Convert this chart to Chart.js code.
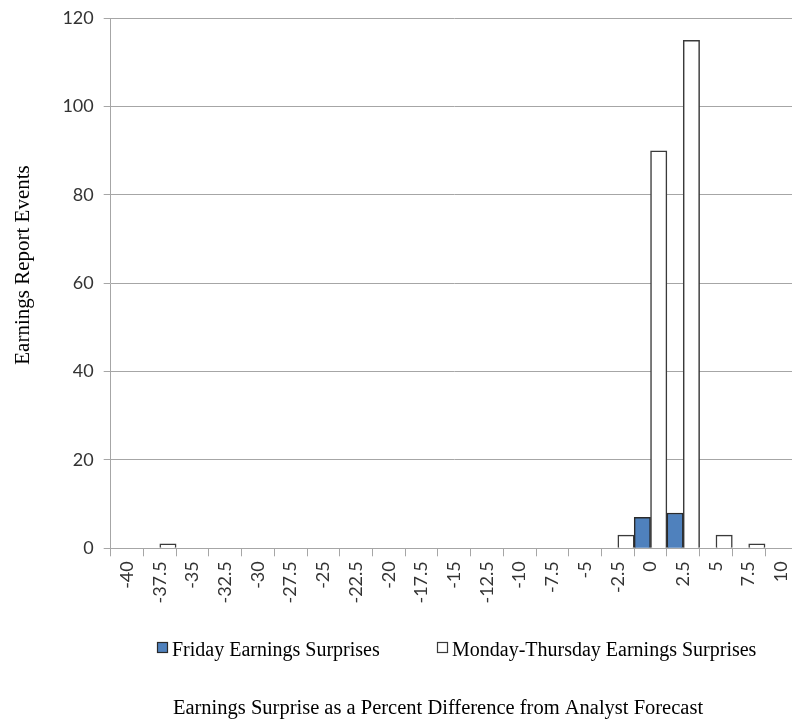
<!DOCTYPE html>
<html>
<head>
<meta charset="utf-8">
<script src="https://cdn.jsdelivr.net/npm/chart.js@4.4.1/dist/chart.umd.min.js"></script>
<style>
  html, body { margin: 0; padding: 0; background: #ffffff; overflow: hidden; }
  #wrap { position: relative; width: 808px; height: 724px; }
</style>
</head>
<body>
<div id="wrap"><canvas id="chart"></canvas></div>
<script>
// Bin labels: earnings surprise, percent difference from analyst forecast
const binLabels = ['-40', '-37.5', '-35', '-32.5', '-30', '-27.5', '-25', '-22.5', '-20', '-17.5',
                   '-15', '-12.5', '-10', '-7.5', '-5', '-2.5', '0', '2.5', '5', '7.5', '10'];

// Count of earnings report events per bin
const fridayCounts = [0, 0, 0, 0, 0, 0, 0, 0, 0, 0, 0, 0, 0, 0, 0, 0, 7, 8, 0, 0, 0];
const monThuCounts = [0, 1, 0, 0, 0, 0, 0, 0, 0, 0, 0, 0, 0, 0, 0, 3, 90, 115, 3, 1, 0];

const seriesNames = ['Friday Earnings Surprises', 'Monday-Thursday Earnings Surprises'];
const yTitle = 'Earnings Report Events';
const xTitle = 'Earnings Surprise as a Percent Difference from Analyst Forecast';

const yTicks = { min: 0, max: 120, step: 20 };

const serif = "'Liberation Serif', 'Times New Roman', serif";
const sans = "Lato, 'Open Sans', sans-serif";
const gridGray = '#a6a6a6';

// Axis titles and the legend row, drawn on the canvas under the plot
const annotationsPlugin = {
  id: 'annotations',
  afterDraw(chart) {
    const ctx = chart.ctx;
    ctx.save();

    // vertical axis title
    ctx.translate(23, 265);
    ctx.rotate(-Math.PI / 2);
    ctx.font = '21px ' + serif;
    ctx.fillStyle = '#000000';
    ctx.textAlign = 'center';
    ctx.textBaseline = 'middle';
    ctx.fillText(yTitle, 0, 0);
    ctx.setTransform(1, 0, 0, 1, 0, 0);

    // legend row
    const items = [{ x: 157, textX: 172 }, { x: 437, textX: 452 }];
    ctx.font = '20px ' + serif;
    ctx.textAlign = 'left';
    ctx.textBaseline = 'alphabetic';
    chart.data.datasets.forEach((ds, i) => {
      const it = items[i];
      ctx.fillStyle = ds.backgroundColor;
      ctx.fillRect(it.x, 642, 11, 11);
      ctx.strokeStyle = ds.borderColor;
      ctx.lineWidth = 1.2;
      ctx.strokeRect(it.x + 0.5, 642.5, 10, 10);
      ctx.fillStyle = '#000000';
      ctx.fillText(ds.label, it.textX, 655.5);
    });

    // horizontal axis title
    ctx.font = '20.5px ' + serif;
    ctx.textAlign = 'center';
    ctx.fillText(xTitle, 438, 714);
    ctx.restore();
  }
};

new Chart(document.getElementById('chart'), {
  type: 'bar',
  data: {
    labels: binLabels,
    datasets: [
      {
        label: seriesNames[0],
        data: fridayCounts,
        backgroundColor: '#4f81bd',
        borderColor: '#2a2a2a',
        borderWidth: 1.5,
        borderSkipped: 'bottom'
      },
      {
        label: seriesNames[1],
        data: monThuCounts,
        backgroundColor: '#ffffff',
        borderColor: '#3a3a3a',
        borderWidth: 1.5,
        borderSkipped: 'bottom'
      }
    ]
  },
  options: {
    responsive: true,
    maintainAspectRatio: false,
    devicePixelRatio: 1,
    animation: false,
    layout: { padding: { left: 63.7, right: 0, top: 18.3, bottom: 115.7 } },
    datasets: { bar: { barPercentage: 1.0, categoryPercentage: 1.0 } },
    scales: {
      x: {
        afterFit(scale) { scale.height = 60; },
        grid: {
          display: true,
          drawOnChartArea: false,
          drawTicks: true,
          tickLength: 8,
          color: gridGray,
          offset: true
        },
        border: { display: true, color: gridGray, width: 1 },
        ticks: {
          autoSkip: false,
          minRotation: 90,
          maxRotation: 90,
          padding: 5,
          color: '#333333',
          font: { family: sans, size: 18 }
        }
      },
      y: {
        min: yTicks.min,
        max: yTicks.max,
        afterFit(scale) { scale.width = 47; scale.paddingTop = 0; scale.paddingBottom = 0; },
        grid: {
          color: gridGray,
          lineWidth: 1,
          drawTicks: true,
          tickLength: 7
        },
        border: { display: true, color: gridGray, width: 1 },
        ticks: {
          stepSize: yTicks.step,
          padding: 10,
          color: '#333333',
          font: { family: sans, size: 18 }
        }
      }
    },
    plugins: {
      legend: { display: false },
      title: { display: false },
      tooltip: { enabled: false }
    }
  },
  plugins: [annotationsPlugin]
});
</script>
</body>
</html>
